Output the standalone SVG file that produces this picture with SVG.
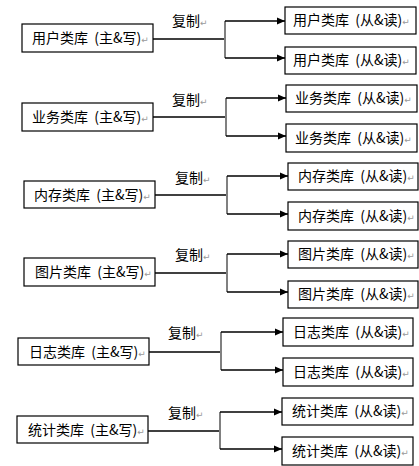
<svg xmlns="http://www.w3.org/2000/svg" width="419" height="466" viewBox="0 0 419 466">
<defs>
<marker id="ah" markerWidth="8" markerHeight="8" refX="8" refY="4" orient="auto" markerUnits="userSpaceOnUse">
<path d="M0,0.5 L8,4 L0,7.5 Z" fill="#000"/>
</marker>
<style>
.box{fill:#fff;stroke:#000;stroke-width:1.2}
.t{font-family:"Noto Sans CJK SC","Liberation Sans",sans-serif;font-size:14px;fill:#000}
.pm{font-family:"DejaVu Sans",sans-serif;font-size:9px;fill:#999}
.ln{stroke:#000;stroke-width:1.3;fill:none}
.ar{stroke:#000;stroke-width:1.3;fill:none;marker-end:url(#ah)}
.fk{stroke:#808080;stroke-width:2;fill:none}
</style>
</defs>
<rect width="419" height="466" fill="#fff"/>

<g id="connectors">
<line class="ln" x1="153" y1="39" x2="225" y2="39"/>
<line class="fk" x1="225" y1="21" x2="225" y2="58"/>
<line class="ar" x1="225" y1="21" x2="285" y2="21"/>
<line class="ar" x1="225" y1="58" x2="285" y2="58"/>
<text class="t" x="172" y="26">复制<tspan class="pm">↵</tspan></text>
<line class="ln" x1="153" y1="117" x2="226" y2="117"/>
<line class="fk" x1="226" y1="98" x2="226" y2="136"/>
<line class="ar" x1="226" y1="98" x2="286" y2="98"/>
<line class="ar" x1="226" y1="136" x2="286" y2="136"/>
<text class="t" x="172" y="105">复制<tspan class="pm">↵</tspan></text>
<line class="ln" x1="155" y1="195" x2="227" y2="195"/>
<line class="fk" x1="227" y1="176" x2="227" y2="214"/>
<line class="ar" x1="227" y1="176" x2="288" y2="176"/>
<line class="ar" x1="227" y1="214" x2="288" y2="214"/>
<text class="t" x="175" y="183">复制<tspan class="pm">↵</tspan></text>
<line class="ln" x1="155" y1="273" x2="227" y2="273"/>
<line class="fk" x1="227" y1="254" x2="227" y2="292"/>
<line class="ar" x1="227" y1="254" x2="288" y2="254"/>
<line class="ar" x1="227" y1="292" x2="288" y2="292"/>
<text class="t" x="175" y="260">复制<tspan class="pm">↵</tspan></text>
<line class="ln" x1="149" y1="352" x2="221" y2="352"/>
<line class="fk" x1="221" y1="332" x2="221" y2="370"/>
<line class="ar" x1="221" y1="332" x2="283" y2="332"/>
<line class="ar" x1="221" y1="370" x2="283" y2="370"/>
<text class="t" x="168" y="338">复制<tspan class="pm">↵</tspan></text>
<line class="ln" x1="148" y1="431" x2="220" y2="431"/>
<line class="fk" x1="220" y1="412" x2="220" y2="449"/>
<line class="ar" x1="220" y1="412" x2="282" y2="412"/>
<line class="ar" x1="220" y1="449" x2="282" y2="449"/>
<text class="t" x="168" y="418">复制<tspan class="pm">↵</tspan></text>
</g>

<g id="m1"><rect class="box" x="22" y="24" width="131" height="28"/><text class="t" x="32" y="43">用户类库&#160;&#160;(主&amp;写)<tspan class="pm">↵</tspan></text></g>
<g id="s1a"><rect class="box" x="285" y="7" width="131" height="27"/><text class="t" x="293" y="25">用户类库&#160;&#160;(从&amp;读)<tspan class="pm">↵</tspan></text></g>
<g id="s1b"><rect class="box" x="285" y="47" width="131" height="27"/><text class="t" x="293" y="65">用户类库&#160;&#160;(从&amp;读)<tspan class="pm">↵</tspan></text></g>

<g id="m2"><rect class="box" x="22" y="103" width="131" height="28"/><text class="t" x="32" y="122">业务类库&#160;&#160;(主&amp;写)<tspan class="pm">↵</tspan></text></g>
<g id="s2a"><rect class="box" x="286" y="85" width="131" height="27"/><text class="t" x="295" y="103">业务类库&#160;&#160;(从&amp;读)<tspan class="pm">↵</tspan></text></g>
<g id="s2b"><rect class="box" x="286" y="124" width="131" height="28"/><text class="t" x="295" y="143">业务类库&#160;&#160;(从&amp;读)<tspan class="pm">↵</tspan></text></g>

<g id="m3"><rect class="box" x="24" y="181" width="131" height="27"/><text class="t" x="34" y="200">内存类库&#160;&#160;(主&amp;写)<tspan class="pm">↵</tspan></text></g>
<g id="s3a"><rect class="box" x="288" y="163" width="130" height="27"/><text class="t" x="298" y="181">内存类库&#160;&#160;(从&amp;读)<tspan class="pm">↵</tspan></text></g>
<g id="s3b"><rect class="box" x="288" y="202" width="130" height="28"/><text class="t" x="298" y="221">内存类库&#160;&#160;(从&amp;读)<tspan class="pm">↵</tspan></text></g>

<g id="m4"><rect class="box" x="24" y="258" width="131" height="28"/><text class="t" x="35" y="277">图片类库&#160;&#160;(主&amp;写)<tspan class="pm">↵</tspan></text></g>
<g id="s4a"><rect class="box" x="288" y="241" width="130" height="27"/><text class="t" x="298" y="259">图片类库&#160;&#160;(从&amp;读)<tspan class="pm">↵</tspan></text></g>
<g id="s4b"><rect class="box" x="288" y="281" width="130" height="27"/><text class="t" x="298" y="299">图片类库&#160;&#160;(从&amp;读)<tspan class="pm">↵</tspan></text></g>

<g id="m5"><rect class="box" x="18" y="338" width="131" height="27"/><text class="t" x="29" y="357">日志类库&#160;&#160;(主&amp;写)<tspan class="pm">↵</tspan></text></g>
<g id="s5a"><rect class="box" x="283" y="318" width="130" height="28"/><text class="t" x="293" y="337">日志类库&#160;&#160;(从&amp;读)<tspan class="pm">↵</tspan></text></g>
<g id="s5b"><rect class="box" x="283" y="358" width="130" height="28"/><text class="t" x="293" y="377">日志类库&#160;&#160;(从&amp;读)<tspan class="pm">↵</tspan></text></g>

<g id="m6"><rect class="box" x="17" y="416" width="131" height="27"/><text class="t" x="28" y="435">统计类库&#160;&#160;(主&amp;写)<tspan class="pm">↵</tspan></text></g>
<g id="s6a"><rect class="box" x="282" y="398" width="131" height="27"/><text class="t" x="292" y="416">统计类库&#160;&#160;(从&amp;读)<tspan class="pm">↵</tspan></text></g>
<g id="s6b"><rect class="box" x="282" y="437" width="131" height="28"/><text class="t" x="292" y="456">统计类库&#160;&#160;(从&amp;读)<tspan class="pm">↵</tspan></text></g>
</svg>
